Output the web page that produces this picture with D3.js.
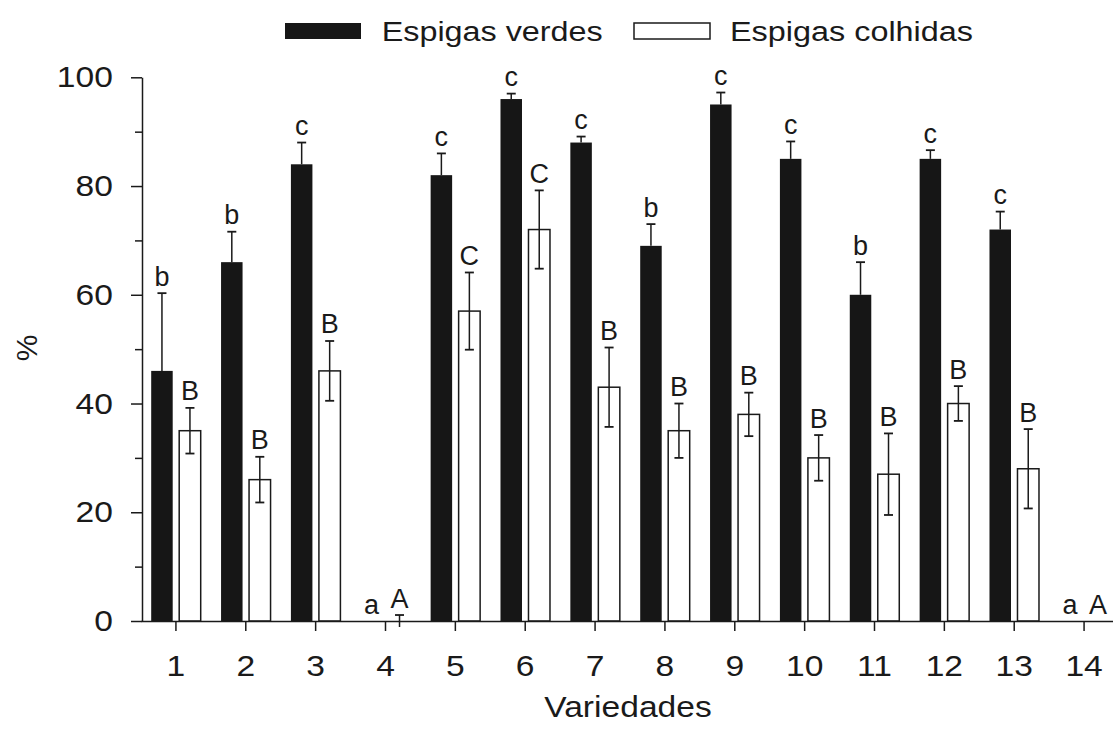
<!DOCTYPE html>
<html><head><meta charset="utf-8">
<script src="https://cdn.jsdelivr.net/npm/d3@7"></script>
<style>
html,body{margin:0;padding:0;background:#fff;}
svg{display:block;font-family:"Liberation Sans", Arial, Helvetica, sans-serif;}
</style></head><body>
<svg id="chart" width="1113" height="740"></svg>
<script>
// ---- data ----
const categories = ["1","2","3","4","5","6","7","8","9","10","11","12","13","14"];
const seriesNames = ["Espigas verdes", "Espigas colhidas"];
const verdes      = [46, 66, 84, 0, 82, 96, 88, 69, 95, 85, 60, 85, 72, 0];
const verdesErr   = [14.3, 5.6, 4, 0, 4, 1, 1.1, 4, 2.2, 3.2, 6, 1.6, 3.3, 0];
const colhidas    = [35, 26, 46, 0, 57, 72, 43, 35, 38, 30, 27, 40, 28, 0];
const colhidasErr = [4.2, 4.2, 5.5, 1.1, 7.1, 7.2, 7.3, 5, 4, 4.2, 7.5, 3.2, 7.3, 0];
const verdesLetters   = ["b","b","c","a","c","c","c","b","c","c","b","c","c","a"];
const colhidasLetters = ["B","B","B","A","C","C","B","B","B","B","B","B","B","A"];
const yTicks = [0, 20, 40, 60, 80, 100];
const yMinorTicks = [10, 30, 50, 70, 90];
const xTitle = "Variedades";
const yTitle = "%";

// ---- drawing ----
const ink = "#1a1a1a";
const svg = d3.select("#chart");

const x = d3.scaleBand().domain(categories).range([141, 1119]).padding(0);
const xSub = d3.scaleBand().domain(seriesNames).range([10.2, 59.7]).paddingInner(0.232);
const y = d3.scaleLinear().domain([0, 100]).range([621, 77.3]);

const rows = categories.map((c, i) => ({
  cat: c,
  series: [
    {name: seriesNames[0], v: verdes[i], e: verdesErr[i], letter: verdesLetters[i], both: false},
    {name: seriesNames[1], v: colhidas[i], e: colhidasErr[i], letter: colhidasLetters[i], both: true}
  ]
}));

const g = svg.append("g");
const groups = g.selectAll("g.cat").data(rows).join("g")
  .attr("class", "cat")
  .attr("transform", d => `translate(${x(d.cat)},0)`);

const items = groups.selectAll("g.item").data(d => d.series).join("g").attr("class", "item");

// bars
items.append("rect")
  .attr("x", d => xSub(d.name))
  .attr("width", xSub.bandwidth())
  .attr("y", d => y(d.v))
  .attr("height", d => y(0) - y(d.v))
  .attr("fill", d => d.name === seriesNames[0] ? "#161616" : "#fff")
  .attr("stroke", d => d.name === seriesNames[0] ? "none" : ink)
  .attr("stroke-width", 1.5);

// error bars
const eb = items.filter(d => d.e > 0);
const cx = d => xSub(d.name) + xSub.bandwidth() / 2;
eb.append("line")
  .attr("x1", cx).attr("x2", cx)
  .attr("y1", d => d.both ? y(d.v - d.e) : y(d.v))
  .attr("y2", d => y(d.v + d.e))
  .attr("stroke", ink).attr("stroke-width", 1.5);
eb.append("line")
  .attr("x1", d => cx(d) - 4.5).attr("x2", d => cx(d) + 4.5)
  .attr("y1", d => y(d.v + d.e)).attr("y2", d => y(d.v + d.e))
  .attr("stroke", ink).attr("stroke-width", 1.8);
eb.filter(d => d.both && d.v - d.e > 0).append("line")
  .attr("x1", d => cx(d) - 4.5).attr("x2", d => cx(d) + 4.5)
  .attr("y1", d => y(d.v - d.e)).attr("y2", d => y(d.v - d.e))
  .attr("stroke", ink).attr("stroke-width", 1.8);

// letters
items.append("text")
  .attr("x", cx)
  .attr("y", d => y(d.v + d.e) - 7.5)
  .attr("text-anchor", "middle")
  .attr("font-size", 27)
  .attr("fill", ink)
  .text(d => d.letter);

// axes
const yAxis = svg.append("g").attr("transform", "translate(142,0)")
  .call(d3.axisLeft(y).tickValues(yTicks).tickSize(11).tickSizeOuter(0).tickPadding(15).tickFormat(d3.format("d")));
svg.append("g").attr("transform", "translate(142,0)")
  .call(d3.axisLeft(y).tickValues(yMinorTicks).tickSize(7).tickFormat(""))
  .call(a => a.select(".domain").remove());
const xAxis = svg.append("g").attr("transform", "translate(0,621)")
  .call(d3.axisBottom(x).tickSize(10).tickSizeOuter(0).tickPadding(24));

svg.selectAll(".domain, .tick line").attr("stroke", ink).attr("stroke-width", 1.5);
[yAxis, xAxis].forEach(a => a.selectAll("text")
  .attr("font-size", 30).attr("fill", ink)
  .attr("font-family", "Liberation Sans, Arial, sans-serif")
  .attr("transform", "scale(1.12,1)"));

// axis titles
svg.append("text").attr("x", 0).attr("y", 0).attr("text-anchor", "middle")
  .attr("font-size", 30).attr("fill", ink)
  .attr("transform", "translate(628,717) scale(1.12,1)")
  .text(xTitle);
svg.append("text").attr("transform", "translate(37,348) rotate(-90)")
  .attr("text-anchor", "middle").attr("font-size", 30).attr("fill", ink)
  .text(yTitle);

// legend
const legend = svg.append("g");
const legX = [285, 634];
const legTextX = [381.7, 730];
const legTextLen = [221, 243];
seriesNames.forEach((s, i) => {
  legend.append("rect")
    .attr("x", legX[i]).attr("y", 23).attr("width", 76).attr("height", 16)
    .attr("fill", i === 0 ? "#161616" : "#fff")
    .attr("stroke", i === 0 ? "none" : ink).attr("stroke-width", 1.5);
  legend.append("text")
    .attr("x", legTextX[i]).attr("y", 41)
    .attr("font-size", 27).attr("fill", ink)
    .attr("textLength", legTextLen[i]).attr("lengthAdjust", "spacingAndGlyphs")
    .text(s);
});
</script>
</body></html>
